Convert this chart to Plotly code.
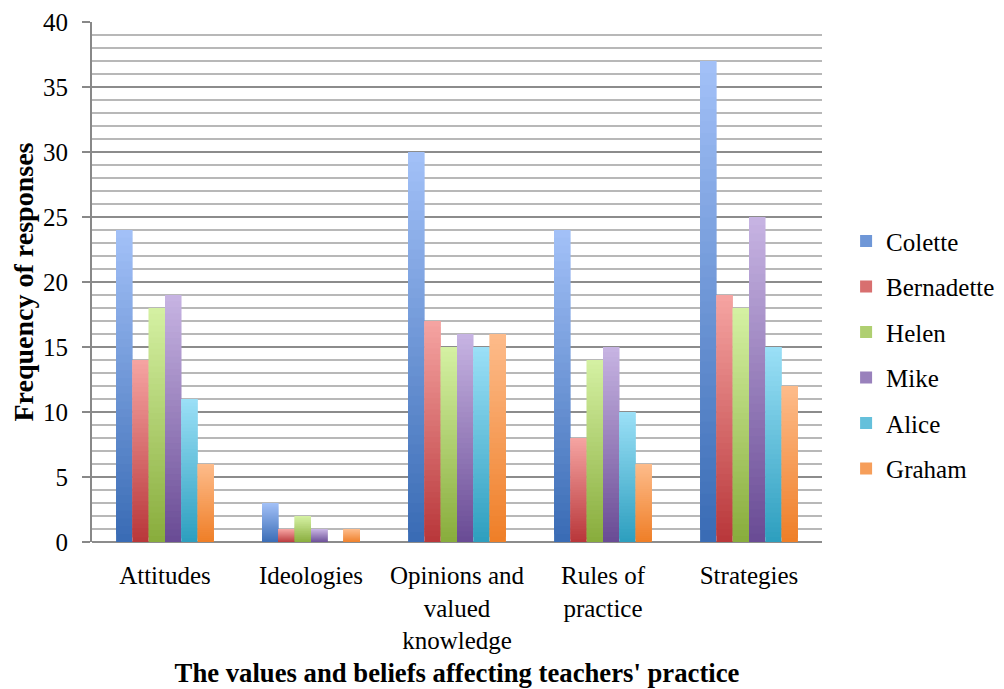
import plotly.graph_objects as go

categories = ["Attitudes", "Ideologies", "Opinions and<br>valued<br>knowledge", "Rules of<br>practice", "Strategies"]
series_names = ["Colette", "Bernadette", "Helen", "Mike", "Alice", "Graham"]
colette = [24, 3, 30, 24, 37]
bernadette = [14, 1, 17, 8, 19]
helen = [18, 2, 15, 14, 18]
mike = [19, 1, 16, 15, 25]
alice = [11, 0, 15, 10, 15]
graham = [6, 1, 16, 6, 12]
series_values = [colette, bernadette, helen, mike, alice, graham]

# light (top) and dark (bottom) colours for the gradient fill
top_colors = ["#A2C0F7", "#F5A3A1", "#D4F0A2", "#C6B3E2", "#9ADFF6", "#FDBB8A"]
bottom_colors = ["#3A6CB5", "#B9383B", "#89AD3D", "#6A4C95", "#2E9FBF", "#EF7F28"]

def hex2rgb(h):
    h = h.lstrip("#")
    return tuple(int(h[i:i + 2], 16) for i in (0, 2, 4))

def mix(c1, c2, t):
    a, b = hex2rgb(c1), hex2rgb(c2)
    return "rgb(%d,%d,%d)" % tuple(round(a[i] + (b[i] - a[i]) * t) for i in range(3))

K = 40
fig = go.Figure()
for s, (name, vals) in enumerate(zip(series_names, series_values)):
    for k in range(K):
        t = k / (K - 1)
        col = mix(bottom_colors[s], top_colors[s], t)
        fig.add_trace(go.Bar(
            x=categories,
            y=[v / K * 2.0 if k < K - 1 else v / K for v in vals],
            base=[v * k / K for v in vals],
            offsetgroup=str(s),
            name=name,
            legendgroup=name,
            showlegend=(k == K // 2),
            marker=dict(color=col, line=dict(width=0)),
            hoverinfo="skip",
        ))

font_family = "Liberation Serif, Times New Roman, serif"
fig.update_layout(
    barmode="group",
    bargap=0.33,
    bargroupgap=0,
    width=1030,
    height=681,
    margin=dict(l=84, r=216, t=14, b=147),
    plot_bgcolor="white",
    paper_bgcolor="white",
    font=dict(family=font_family, size=25, color="black"),
    legend=dict(
        x=1.033, y=0.36, xanchor="left", yanchor="middle",
        font=dict(family=font_family, size=25, color="black"),
        traceorder="grouped",
        tracegroupgap=10,
        itemwidth=30,
    ),
    xaxis=dict(
        automargin=False,
        title=dict(text="<b>The values and beliefs affecting teachers' practice</b>",
                   font=dict(family=font_family, size=26.7), standoff=10),
        showline=False,
        ticks="",
        ticklabelstandoff=16,
        tickfont=dict(family=font_family, size=25),
    ),
    yaxis=dict(
        automargin=False,
        title=dict(text="<b>Frequency of responses</b>",
                   font=dict(family=font_family, size=28), standoff=4),
        range=[0, 40],
        dtick=5,
        showline=True,
        linecolor="#888888",
        linewidth=2,
        ticks="outside",
        ticklen=8,
        tickwidth=2,
        tickcolor="#888888",
        ticklabelstandoff=9,
        gridcolor="#8c8c8c",
        gridwidth=2,
        zeroline=True,
        zerolinecolor="#8c8c8c",
        zerolinewidth=2,
        tickfont=dict(family=font_family, size=25),
        minor=dict(dtick=1, showgrid=True, gridcolor="#b8b8b8", gridwidth=2, ticks=""),
    ),
)

fig.write_html("out.html")
